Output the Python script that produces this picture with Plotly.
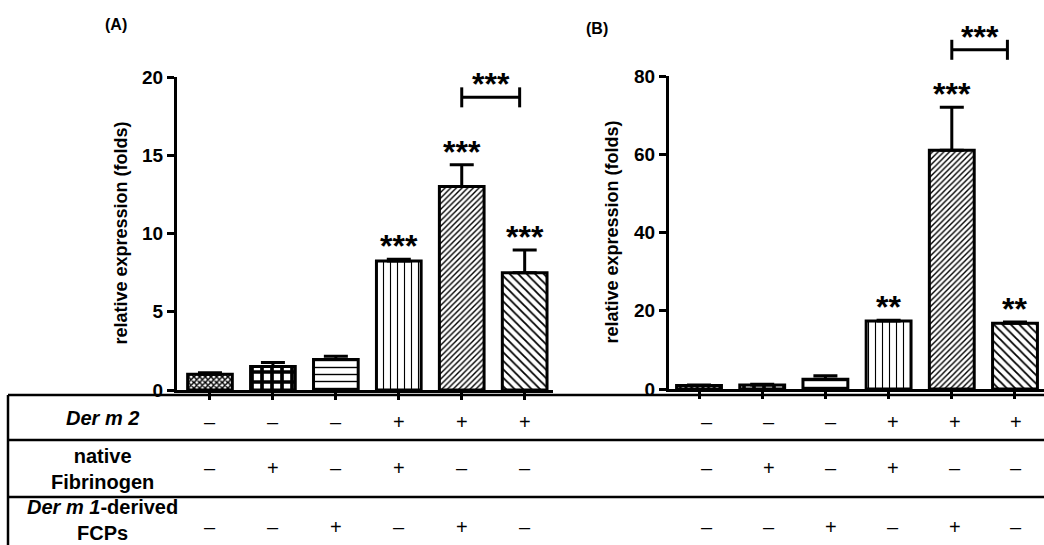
import plotly.graph_objects as go

# ---------------- data ----------------
categories = [0, 1, 2, 3, 4, 5]
values_A = [1.0, 1.5, 1.95, 8.25, 13.0, 7.5]
errors_A = [0.1, 0.25, 0.2, 0.1, 1.4, 1.45]
stars_A = ["", "", "", "***", "***", "***"]

values_B = [0.9, 1.0, 2.5, 17.4, 61.0, 16.8]
errors_B = [0.1, 0.2, 0.9, 0.15, 11.0, 0.3]
stars_B = ["", "", "", "**", "***", "**"]

# significance brackets: (from category, to category, height, label)
bracket_A = (4.0, 4.92, 18.7, "***")
bracket_B = (4.0, 4.88, 86.7, "***")

row_labels = ["<i>Der m 2</i>", "native<br>Fibrinogen", "<i>Der m 1</i>-derived<br>FCPs"]
der_m2 = ["–", "–", "–", "+", "+", "+"]
fibrinogen = ["–", "+", "–", "+", "–", "–"]
fcps = ["–", "–", "+", "–", "+", "–"]

yticks_A = [0, 5, 10, 15, 20]
yticks_B = [0, 20, 40, 60, 80]

patterns = [
    dict(shape="x", size=4, solidity=0.6),
    dict(shape="+", size=10, solidity=0.6),
    dict(shape="-", size=7, solidity=0.2),
    dict(shape="|", size=7, solidity=0.16),
    dict(shape="/", size=4, solidity=0.35),
    dict(shape="\\", size=6, solidity=0.3),
]

# ---------------- layout geometry ----------------
W, H = 1044, 545
FONT = "Liberation Sans, Arial, Helvetica, sans-serif"

xdom_A = [177 / W, 553 / W]
xrng_A = [-0.524, 5.45]
ydom_A = [1 - 390 / H, 1 - 77 / H]
yrng_A = [0, 20]

xdom_B = [669 / W, 1.0]
xrng_B = [-0.475, 5.459]
ydom_B = [1 - 389 / H, 1 - 76 / H]
yrng_B = [0, 80]


def to_paper(v, dom, rng):
    return dom[0] + (v - rng[0]) / (rng[1] - rng[0]) * (dom[1] - dom[0])


fig = go.Figure()

for vals, errs, xa, ya in [(values_A, errors_A, "x", "y"), (values_B, errors_B, "x2", "y2")]:
    for i, (c, v, e) in enumerate(zip(categories, vals, errs)):
        p = patterns[i]
        fig.add_trace(go.Bar(
            x=[c], y=[v], xaxis=xa, yaxis=ya, width=0.71,
            marker=dict(color="white", line=dict(color="black", width=3),
                        pattern=dict(shape=p["shape"], size=p["size"], solidity=p["solidity"],
                                     fgcolor="black", bgcolor="white", fillmode="replace")),
            error_y=dict(type="data", array=[e], arrayminus=[0], symmetric=False,
                         color="black", thickness=3, width=12),
            showlegend=False, hoverinfo="skip",
        ))

axis_common = dict(showline=True, linecolor="black", linewidth=3, ticks="outside",
                   tickcolor="black", tickwidth=2.5, ticklen=7, showgrid=False,
                   zeroline=False, mirror=False)

fig.update_layout(
    width=W, height=H, margin=dict(l=0, r=0, t=0, b=0, autoexpand=False),
    paper_bgcolor="white", plot_bgcolor="white", showlegend=False,
    font=dict(family=FONT, color="black"),
    xaxis=dict(domain=xdom_A, range=xrng_A, anchor="y", tickvals=categories,
               showticklabels=False, **axis_common),
    yaxis=dict(domain=ydom_A, range=yrng_A, anchor="x", tickvals=yticks_A,
               tickfont=dict(size=19, family=FONT, weight="bold"), **axis_common),
    xaxis2=dict(domain=xdom_B, range=xrng_B, anchor="y2", tickvals=categories,
                showticklabels=False, **axis_common),
    yaxis2=dict(domain=ydom_B, range=yrng_B, anchor="x2", tickvals=yticks_B,
                tickfont=dict(size=19, family=FONT, weight="bold"), **axis_common),
    bargap=0.3,
)

ann = []
shapes = []

# stars over bars
for stars, vals, errs, xa, ya in [(stars_A, values_A, errors_A, "x", "y"),
                                  (stars_B, values_B, errors_B, "x2", "y2")]:
    for c, s, v, e in zip(categories, stars, vals, errs):
        if s:
            ann.append(dict(x=c, y=v + e, xref=xa, yref=ya, text=s, showarrow=False,
                            yanchor="bottom", xanchor="center", yshift=-7,
                            font=dict(size=32, family=FONT, weight="bold")))

# brackets
for (c0, c1, h, lab), xd, xr, yd, yr in [(bracket_A, xdom_A, xrng_A, ydom_A, yrng_A),
                                         (bracket_B, xdom_B, xrng_B, ydom_B, yrng_B)]:
    px0 = to_paper(c0, xd, xr)
    px1 = to_paper(c1, xd, xr)
    py = to_paper(h, yd, yr)
    d = 10 / H
    line = dict(color="black", width=3)
    shapes.append(dict(type="line", xref="paper", yref="paper", x0=px0, x1=px1, y0=py, y1=py, line=line))
    shapes.append(dict(type="line", xref="paper", yref="paper", x0=px0, x1=px0, y0=py - d, y1=py + d, line=line))
    shapes.append(dict(type="line", xref="paper", yref="paper", x0=px1, x1=px1, y0=py - d, y1=py + d, line=line))
    ann.append(dict(x=(px0 + px1) / 2, y=py, xref="paper", yref="paper", text=lab, showarrow=False,
                    yanchor="bottom", xanchor="center", yshift=-7,
                    font=dict(size=32, family=FONT, weight="bold")))

# y-axis titles
for xc, yc in [(121, 233.5), (611, 232.5)]:
    ann.append(dict(x=xc / W, y=1 - yc / H, xref="paper", yref="paper",
                    text="relative expression (folds)", textangle=-90, showarrow=False,
                    xanchor="center", yanchor="middle",
                    font=dict(size=18, family=FONT, weight="bold")))

# panel labels
for lab, xc, yc in [("(A)", 116, 25), ("(B)", 597, 28)]:
    ann.append(dict(x=xc / W, y=1 - yc / H, xref="paper", yref="paper", text=lab,
                    showarrow=False, xanchor="center", yanchor="middle",
                    font=dict(size=16, family=FONT, weight="bold")))

# table
row_y = [422, 468, 527]
label_y = [418, 469, 520]
for lab, yc in zip(row_labels, label_y):
    ann.append(dict(x=102 / W, y=1 - yc / H, xref="paper", yref="paper", text="<b>" + lab + "</b>",
                    showarrow=False, xanchor="center", yanchor="middle",
                    font=dict(size=20, family=FONT)))

for row, yc in zip([der_m2, fibrinogen, fcps], row_y):
    for i, (c, s) in enumerate(zip(categories, row)):
        ann.append(dict(x=c, y=1 - yc / H, xref="x", yref="paper", text=s, showarrow=False,
                        xanchor="center", yanchor="middle", font=dict(size=20, family=FONT)))
        ann.append(dict(x=c, y=1 - yc / H, xref="x2", yref="paper", text=s, showarrow=False,
                        xanchor="center", yanchor="middle", xshift=8 - 1.3 * i,
                        font=dict(size=20, family=FONT)))

tline = dict(color="black", width=2.5)
for yl in [395, 440, 497]:
    shapes.append(dict(type="line", xref="paper", yref="paper", x0=8 / W, x1=1.0,
                       y0=1 - yl / H, y1=1 - yl / H, line=tline))
shapes.append(dict(type="line", xref="paper", yref="paper", x0=8 / W, x1=8 / W,
                   y0=1 - 395 / H, y1=0, line=tline))

fig.update_layout(annotations=ann, shapes=shapes)
fig.write_html("out.html", config={"displayModeBar": False},
               post_script="document.body.style.margin='0';document.body.style.overflow='hidden';")
